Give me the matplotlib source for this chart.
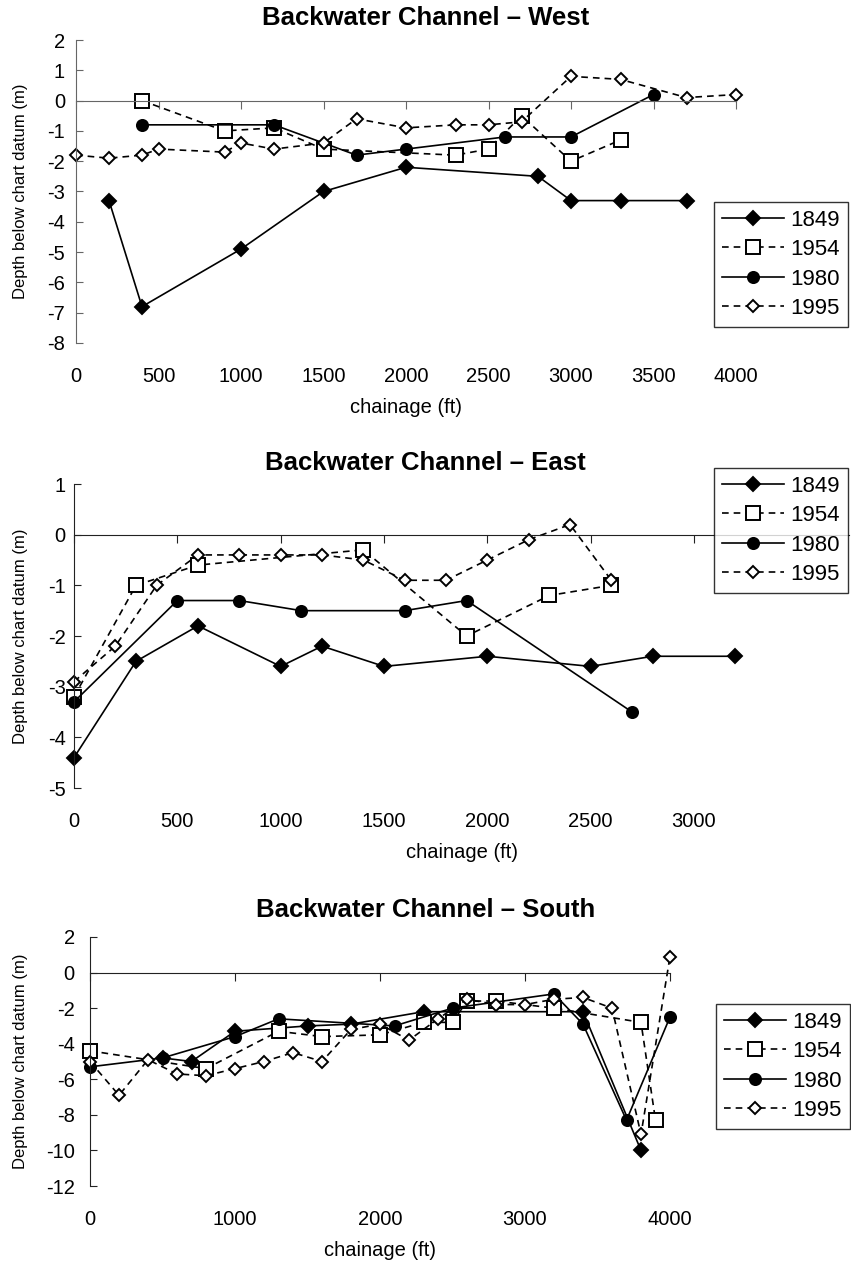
import matplotlib
matplotlib.use("Agg")
import matplotlib.pyplot as plt

plt.rcParams['font.family'] = ['Liberation Sans', 'DejaVu Sans']
plt.rcParams['axes.unicode_minus'] = False

W, H = 851, 1270

years = ["1849", "1954", "1980", "1995"]

# --- West ---
west_1849_x = [200, 400, 1000, 1500, 2000, 2800, 3000, 3300, 3700]
west_1849_y = [-3.3, -6.8, -4.9, -3.0, -2.2, -2.5, -3.3, -3.3, -3.3]
west_1954_x = [400, 900, 1200, 1500, 2300, 2500, 2700, 3000, 3300]
west_1954_y = [0.0, -1.0, -0.9, -1.6, -1.8, -1.6, -0.5, -2.0, -1.3]
west_1980_x = [400, 1200, 1700, 2000, 2600, 3000, 3500]
west_1980_y = [-0.8, -0.8, -1.8, -1.6, -1.2, -1.2, 0.2]
west_1995_x = [0, 200, 400, 500, 900, 1000, 1200, 1500, 1700, 2000, 2300, 2500,
               2700, 3000, 3300, 3700, 4000]
west_1995_y = [-1.8, -1.9, -1.8, -1.6, -1.7, -1.4, -1.6, -1.4, -0.6, -0.9, -0.8, -0.8,
               -0.7, 0.8, 0.7, 0.1, 0.2]

# --- East ---
east_1849_x = [0, 300, 600, 1000, 1200, 1500, 2000, 2500, 2800, 3200]
east_1849_y = [-4.4, -2.5, -1.8, -2.6, -2.2, -2.6, -2.4, -2.6, -2.4, -2.4]
east_1954_x = [0, 300, 600, 1400, 1900, 2300, 2600]
east_1954_y = [-3.2, -1.0, -0.6, -0.3, -2.0, -1.2, -1.0]
east_1980_x = [0, 500, 800, 1100, 1600, 1900, 2700]
east_1980_y = [-3.3, -1.3, -1.3, -1.5, -1.5, -1.3, -3.5]
east_1995_x = [0, 200, 400, 600, 800, 1000, 1200, 1400, 1600, 1800, 2000, 2200, 2400, 2600]
east_1995_y = [-2.9, -2.2, -1.0, -0.4, -0.4, -0.4, -0.4, -0.5, -0.9, -0.9, -0.5, -0.1, 0.2, -0.9]

# --- South ---
south_1849_x = [500, 700, 1000, 1500, 1800, 2300, 3400, 3800]
south_1849_y = [-4.8, -5.0, -3.3, -3.0, -2.9, -2.2, -2.2, -10.0]
south_1954_x = [0, 800, 1300, 1600, 2000, 2300, 2500, 2600, 2800, 3200, 3800, 3900]
south_1954_y = [-4.4, -5.4, -3.3, -3.6, -3.5, -2.8, -2.8, -1.6, -1.6, -2.0, -2.8, -8.3]
south_1980_x = [0, 500, 1000, 1300, 2100, 2500, 3200, 3400, 3700, 4000]
south_1980_y = [-5.3, -4.8, -3.6, -2.6, -3.0, -2.0, -1.2, -2.9, -8.3, -2.5]
south_1995_x = [0, 200, 400, 600, 800, 1000, 1200, 1400, 1600, 1800, 2000, 2200, 2400,
                2600, 2800, 3000, 3200, 3400, 3600, 3800, 4000]
south_1995_y = [-5.0, -6.9, -4.9, -5.7, -5.8, -5.4, -5.0, -4.5, -5.0, -3.2, -2.9, -3.8, -2.6,
                -1.5, -1.8, -1.8, -1.5, -1.4, -2.0, -9.1, 0.9]

styles = [
    dict(ls='-', marker='D', ms=7, mfc='black', mec='black'),
    dict(ls=(0, (4, 3)), marker='s', ms=10, mfc='white', mec='black'),
    dict(ls='-', marker='o', ms=8, mfc='black', mec='black'),
    dict(ls=(0, (4, 3)), marker='D', ms=6, mfc='white', mec='black'),
]


def px_rect(left, top, right, bottom):
    return [left / W, 1 - bottom / H, (right - left) / W, (bottom - top) / H]


def panel(rect, series, xlim, ylim, yticks, tick_marks, tick_labels, title, title_y,
          leg_anchor, axis_color, ylab_pad):
    ax = fig.add_axes(px_rect(*rect))
    for (xs, ys), st, yr in zip(series, styles, years):
        ax.plot(xs, ys, color='black', lw=1.2, mew=1.4, label=yr, clip_on=False, **st)
    ax.set_xlim(*xlim)
    ax.set_ylim(*ylim)
    ax.set_yticks(yticks)
    ax.set_xticks(tick_marks)
    for s in ['top', 'right']:
        ax.spines[s].set_visible(False)
    ax.spines['bottom'].set_position(('data', 0))
    ax.spines['bottom'].set_color(axis_color)
    ax.spines['left'].set_color(axis_color)
    ax.tick_params(axis='x', direction='out', length=5.5, color=axis_color, labelbottom=False)
    ax.tick_params(axis='y', direction='in', length=5, color=axis_color, labelsize=14.5,
                   pad=ylab_pad)
    sec = ax.secondary_xaxis('bottom')
    sec.set_xticks(tick_labels)
    sec.spines['bottom'].set_visible(False)
    sec.tick_params(length=0, labelsize=14.5, pad=17)
    sec.set_xlabel('chainage (ft)', fontsize=14.5, labelpad=9)
    ax.set_ylabel('Depth below chart datum (m)', fontsize=12)
    left, top, right, bottom = rect
    ax.yaxis.set_label_coords((28 - left) / (right - left), 0.5)
    fig.text(0.5, 1 - title_y / H, title, ha='center', va='center', fontsize=18.5,
             fontweight='bold')
    leg = ax.legend(loc='upper right', bbox_to_anchor=(leg_anchor[0] / W, 1 - leg_anchor[1] / H),
                    bbox_transform=fig.transFigure, fontsize=16, frameon=True, fancybox=False,
                    edgecolor='black', handlelength=2.8, labelspacing=0.38, borderpad=0.35,
                    handletextpad=0.3, borderaxespad=0)
    leg.get_frame().set_linewidth(1.0)
    return ax


fig = plt.figure(figsize=(W / 100, H / 100), dpi=100)

panel((76, 40, 736, 343),
      [(west_1849_x, west_1849_y), (west_1954_x, west_1954_y),
       (west_1980_x, west_1980_y), (west_1995_x, west_1995_y)],
      (0, 4000), (-8, 2), range(-8, 3), range(0, 4001, 500), range(0, 4001, 500),
      'Backwater Channel \u2013 West', 18, (848, 202), '#666666', 8)

panel((74, 484, 849, 788),
      [(east_1849_x, east_1849_y), (east_1954_x, east_1954_y),
       (east_1980_x, east_1980_y), (east_1995_x, east_1995_y)],
      (0, 3750), (-5, 1), range(-5, 2), range(0, 3501, 500), range(0, 3001, 500),
      'Backwater Channel \u2013 East', 463, (848, 468), '#222222', 6)

panel((90, 937, 670, 1186),
      [(south_1849_x, south_1849_y), (south_1954_x, south_1954_y),
       (south_1980_x, south_1980_y), (south_1995_x, south_1995_y)],
      (0, 4000), (-12, 2), range(-12, 3, 2), range(0, 4001, 1000), range(0, 4001, 1000),
      'Backwater Channel \u2013 South', 910, (850, 1004), '#222222', 11)

fig.savefig('out.png', dpi=100)
